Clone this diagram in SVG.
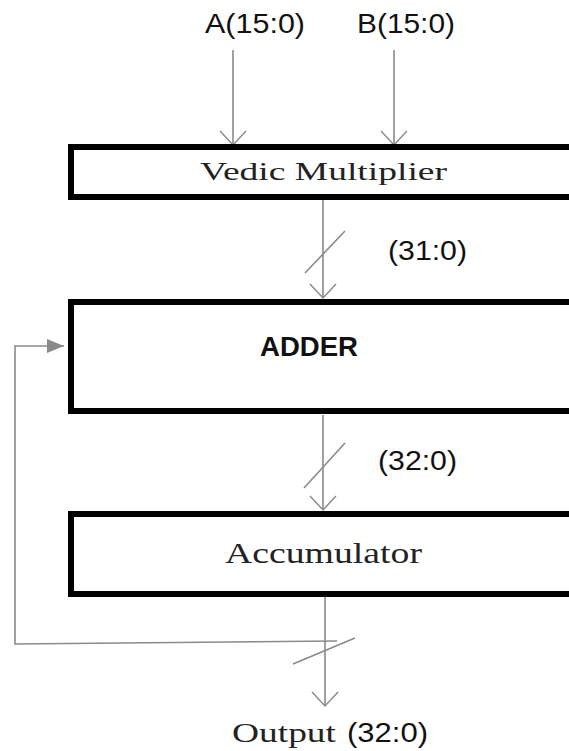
<svg xmlns="http://www.w3.org/2000/svg" width="569" height="751" viewBox="0 0 569 751">
<defs>
<marker id="v" markerWidth="18" markerHeight="30" refX="15" refY="15" orient="auto" markerUnits="userSpaceOnUse">
<path d="M1,2 L15,15 L1,28" fill="none" stroke="#8a8a8a" stroke-width="1.4"/>
</marker>
<marker id="tri" markerWidth="18" markerHeight="14" refX="17" refY="7" orient="auto" markerUnits="userSpaceOnUse">
<path d="M0,0 L17,7 L0,14 Z" fill="#8a8a8a"/>
</marker>
</defs>
<style>
.box{fill:#fff;stroke:#000;stroke-width:6}
.ln{fill:none;stroke:#8a8a8a;stroke-width:1.6}
.serif{font-family:"Liberation Serif","Times New Roman",serif;fill:#222}
.sans{font-family:"Liberation Sans",Arial,sans-serif;fill:#111}
</style>
<rect width="569" height="751" fill="#fff"/>
<g id="connectors">
<line class="ln" x1="233" y1="50" x2="233" y2="145" marker-end="url(#v)"/>
<line class="ln" x1="394" y1="50" x2="394" y2="145" marker-end="url(#v)"/>
<line class="ln" x1="323" y1="200" x2="323" y2="298" marker-end="url(#v)"/>
<line class="ln" x1="305" y1="273" x2="345" y2="231"/>
<line class="ln" x1="323" y1="415" x2="323" y2="510" marker-end="url(#v)"/>
<line class="ln" x1="304" y1="488" x2="345" y2="443"/>
<line class="ln" x1="325" y1="597" x2="325" y2="706" marker-end="url(#v)"/>
<line class="ln" x1="293" y1="664" x2="355" y2="638"/>
<polyline class="ln" points="337,641 15,644 15,346 64,346" marker-end="url(#tri)"/>
</g>
<g id="vedic">
<rect class="box" x="71" y="147" width="520" height="50"/>
<text class="serif" x="200" y="180" font-size="25" textLength="247" lengthAdjust="spacingAndGlyphs">Vedic Multiplier</text>
</g>
<g id="adder">
<rect class="box" x="71" y="302" width="520" height="109"/>
<text class="sans" x="260" y="356" font-size="28" font-weight="bold" textLength="98" lengthAdjust="spacingAndGlyphs">ADDER</text>
</g>
<g id="accumulator">
<rect class="box" x="71" y="514" width="520" height="80"/>
<text class="serif" x="225" y="563" font-size="29" textLength="197" lengthAdjust="spacingAndGlyphs">Accumulator</text>
</g>
<g id="labels">
<text class="sans" x="205" y="33" font-size="27" textLength="100" lengthAdjust="spacingAndGlyphs">A(15:0)</text>
<text class="sans" x="357" y="33" font-size="27" textLength="98" lengthAdjust="spacingAndGlyphs">B(15:0)</text>
<text class="sans" x="388" y="260" font-size="27" textLength="79" lengthAdjust="spacingAndGlyphs">(31:0)</text>
<text class="sans" x="378" y="470" font-size="27" textLength="79" lengthAdjust="spacingAndGlyphs">(32:0)</text>
<text x="232" y="742" font-size="27"><tspan class="serif" textLength="104" lengthAdjust="spacingAndGlyphs">Output</tspan><tspan class="sans" x="347" textLength="81" lengthAdjust="spacingAndGlyphs">(32:0)</tspan></text>
</g>
</svg>
